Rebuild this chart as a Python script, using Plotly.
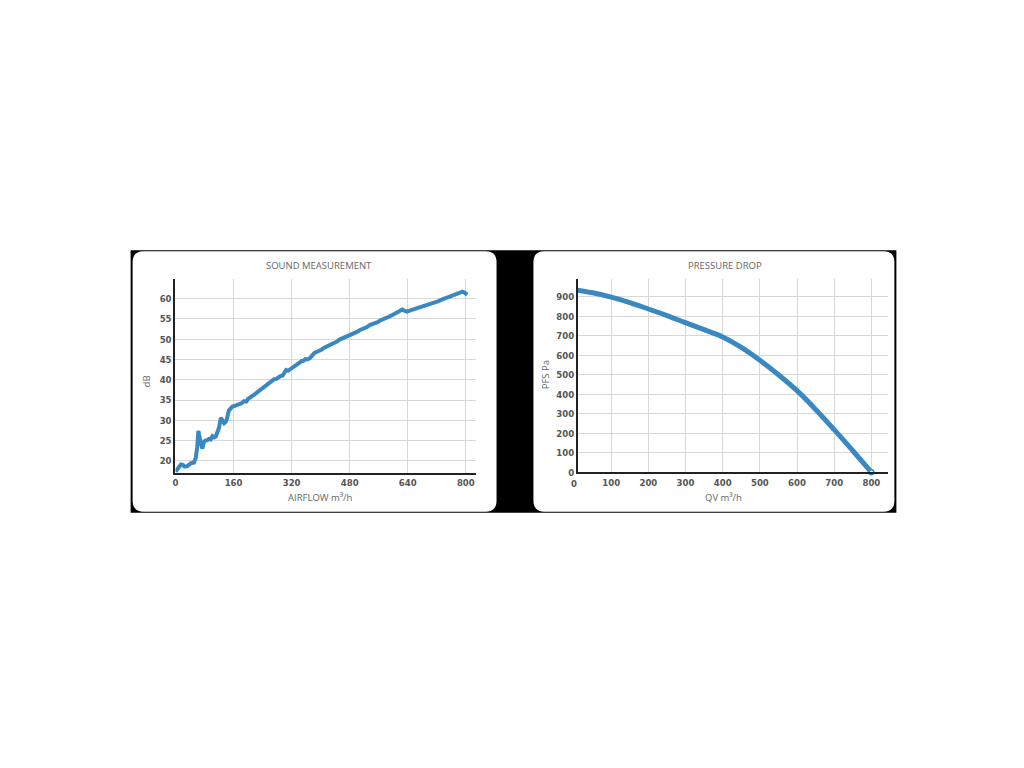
import plotly.graph_objects as go

# ---------------- data ----------------
sound_flow = [0, 8, 15, 20, 25, 33, 42, 51, 56, 60, 63, 66, 70, 74, 78, 82, 88, 92, 97, 102,
              107, 111, 115, 120, 125, 130, 134, 138, 141, 147, 152, 157, 165, 175, 182, 189,
              195, 200, 207, 213, 218, 225, 232, 238, 245, 253, 260, 266, 271, 278, 284, 289,
              295, 300, 305, 310, 316, 321, 328, 335, 341, 348, 352, 358, 364, 370, 377, 383,
              390, 396, 402, 410, 418, 425, 431, 438, 445, 452, 460, 468, 477, 485, 493, 500,
              507, 514, 521, 528, 535, 542, 550, 557, 564, 572, 580, 587, 594, 601, 607, 613,
              619, 625, 631, 637, 643, 650, 657, 663, 669, 676, 683, 690, 697, 704, 711, 718,
              725, 732, 738, 744, 750, 756, 762, 768, 774, 780, 786, 791, 796, 800, 804]
sound_db = [17.3, 18.2, 19.1, 19.0, 18.6, 18.7, 19.4, 19.6, 20.8, 23.5, 27.4, 26.0, 24.8, 23.0,
            24.6, 25.0, 25.1, 25.4, 25.3, 26.1, 25.8, 26.0, 27.0, 28.2, 30.6, 29.9, 29.3, 29.6,
            30.1, 32.4, 33.0, 33.4, 33.6, 33.9, 34.2, 34.7, 34.6, 35.3, 35.9, 36.1, 36.4, 36.9,
            37.6, 37.8, 38.5, 39.0, 39.4, 39.8, 40.1, 40.2, 40.6, 40.9, 41.0, 41.8, 42.4, 42.2,
            42.6, 43.0, 43.4, 43.9, 44.2, 44.6, 44.6, 45.1, 45.0, 45.3, 46.0, 46.6, 46.9, 47.3,
            47.4, 47.9, 48.2, 48.6, 48.9, 49.2, 49.4, 49.9, 50.2, 50.5, 50.8, 51.3, 51.6, 51.8,
            52.2, 52.4, 52.8, 53.0, 53.5, 53.7, 54.1, 54.2, 54.6, 55.0, 55.3, 55.5, 55.8, 56.2,
            56.4, 56.9, 57.1, 57.3, 57.0, 56.8, 57.0, 57.2, 57.5, 57.6, 57.8, 58.0, 58.1, 58.3,
            58.4, 58.6, 58.8, 59.1, 59.4, 59.7, 59.8, 60.1, 60.3, 60.5, 60.8, 61.0, 61.2, 61.4,
            61.6, 61.7, 61.5, 61.3, 61.0]

pressure_q = [10, 50, 100, 150, 200, 250, 300, 350, 400, 450, 500, 550, 600, 650, 700, 750, 800]
pressure_pa = [934, 920, 898, 870, 837, 803, 767, 731, 694, 640, 574, 500, 418, 322, 218, 110, 0]

sound_xticks = [0, 160, 320, 480, 640, 800]
sound_yticks = [20, 25, 30, 35, 40, 45, 50, 55, 60]
press_xticks = [100, 200, 300, 400, 500, 600, 700, 800]
press_yticks = [0, 100, 200, 300, 400, 500, 600, 700, 800, 900]

titles = ["SOUND MEASUREMENT", "PRESSURE DROP"]
xtitles = ["AIRFLOW m³/h", "QV m³/h"]
ytitles = ["dB", "PFS Pa"]

# ---------------- helpers ----------------
W, H = 1024, 768
def px(x): return x / W
def py(y): return 1 - y / H

def rounded(x0, y0, x1, y1, r):
    rx, ry = r / W, r / H
    X0, X1 = px(x0), px(x1)
    Y0, Y1 = py(y0), py(y1)  # Y0 top, Y1 bottom
    return (f"M {X0+rx},{Y0} L {X1-rx},{Y0} Q {X1},{Y0} {X1},{Y0-ry} "
            f"L {X1},{Y1+ry} Q {X1},{Y1} {X1-rx},{Y1} "
            f"L {X0+rx},{Y1} Q {X0},{Y1} {X0},{Y1+ry} "
            f"L {X0},{Y0-ry} Q {X0},{Y0} {X0+rx},{Y0} Z")

BLUE = "#3a88c2"
TICKFONT = dict(family="Liberation Sans Narrow, DejaVu Sans Condensed, sans-serif",
                size=9.5, color="#555555", weight="bold")
TEXTFONT = dict(family="Open Sans, sans-serif", size=9.5, color="#666666")
GRID = "#d8d8d8"

fig = go.Figure()

fig.add_trace(go.Scatter(x=sound_flow, y=sound_db, mode="lines",
                         line=dict(color=BLUE, width=4), xaxis="x", yaxis="y",
                         showlegend=False))
fig.add_trace(go.Scatter(x=pressure_q, y=pressure_pa, mode="lines",
                         line=dict(color=BLUE, width=5, shape="spline"),
                         xaxis="x2", yaxis="y2", showlegend=False))
fig.add_trace(go.Scatter(x=[pressure_q[0], pressure_q[-1]], y=[pressure_pa[0], pressure_pa[-1]],
                         mode="markers",
                         marker=dict(color="white", size=5, line=dict(color=BLUE, width=1.5)),
                         xaxis="x2", yaxis="y2", showlegend=False, cliponaxis=False))

axis_common = dict(showline=True, linecolor="#222222", linewidth=2, showgrid=True,
                   gridcolor=GRID, gridwidth=1, zeroline=False, ticks="",
                   tickfont=TICKFONT, fixedrange=True)

fig.update_layout(
    width=W, height=H,
    margin=dict(l=0, r=0, t=0, b=0),
    paper_bgcolor="white", plot_bgcolor="white",
    xaxis=dict(domain=[px(173), px(474)], range=[0, 827], tickvals=sound_xticks,
               anchor="y", **axis_common),
    yaxis=dict(domain=[py(475.7), py(281)], range=[17.1, 64.8], tickvals=sound_yticks,
               anchor="x", **axis_common),
    xaxis2=dict(domain=[px(576.7), px(887.7)], range=[10.7, 845], tickvals=press_xticks,
                anchor="y2", **axis_common),
    yaxis2=dict(domain=[py(475.3), py(281)], range=[0, 990], tickvals=press_yticks,
                anchor="x2", **axis_common),
)

shapes = [
    dict(type="rect", xref="paper", yref="paper", x0=px(128), x1=px(896), y0=py(516), y1=py(252),
         fillcolor="black", line=dict(width=0), layer="below"),
    dict(type="path", xref="paper", yref="paper", path=rounded(130, 253, 495, 515, 11),
         fillcolor="white", line=dict(width=0), layer="below"),
    dict(type="path", xref="paper", yref="paper", path=rounded(532, 253, 894, 515, 11),
         fillcolor="white", line=dict(width=0), layer="below"),
]
fig.update_layout(shapes=shapes)

ann = [
    dict(text=titles[0], x=px(316.7), y=py(267.3)),
    dict(text=titles[1], x=px(724), y=py(267.3)),
    dict(text=xtitles[0], x=px(318), y=py(500.7)),
    dict(text=xtitles[1], x=px(723), y=py(500.7)),
    dict(text=ytitles[0], x=px(144.3), y=py(384), textangle=-90),
    dict(text=ytitles[1], x=px(544.3), y=py(377), textangle=-90),
    # "0" tick label of the pressure chart (lies just left of the plotted range)
    dict(text="0", x=px(572.7), y=py(486.7), font=TICKFONT),
]
annotations = []
for a in ann:
    d = dict(xref="paper", yref="paper", showarrow=False, font=TEXTFONT,
             xanchor="center", yanchor="middle")
    d.update(a)
    annotations.append(d)
fig.update_layout(annotations=annotations)

fig.write_html("out.html", config={"displayModeBar": False},
               post_script="document.body.style.margin='0';document.body.style.overflow='hidden';")
